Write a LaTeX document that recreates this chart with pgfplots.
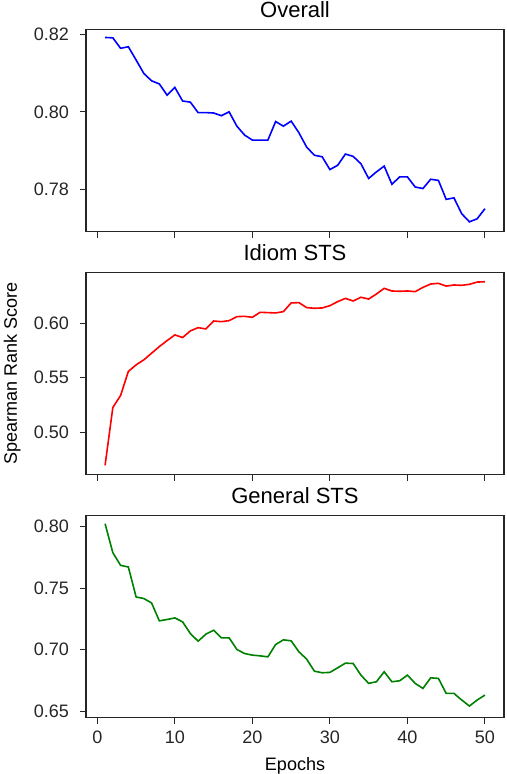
\documentclass[border=0pt]{standalone}
\usepackage{fontspec}
\setmainfont{Liberation Sans}
\usepackage{pgfplots}
\usepackage{pgfplotstable}
\pgfplotsset{compat=1.18}
\usepgfplotslibrary{groupplots}

% epoch, score
\pgfplotstableread{
e s
1 0.8192
2 0.8191
3 0.8164
4 0.8168
5 0.8134
6 0.8099
7 0.8080
8 0.8072
9 0.8043
10 0.8063
11 0.8028
12 0.8025
13 0.7998
14 0.7998
15 0.7997
16 0.7990
17 0.8000
18 0.7963
19 0.7940
20 0.7927
21 0.7927
22 0.7927
23 0.7975
24 0.7963
25 0.7976
26 0.7946
27 0.7909
28 0.7888
29 0.7884
30 0.7851
31 0.7862
32 0.7891
33 0.7885
34 0.7866
35 0.7828
36 0.7845
37 0.7860
38 0.7813
39 0.7832
40 0.7832
41 0.7806
42 0.7802
43 0.7826
44 0.7823
45 0.7774
46 0.7778
47 0.7737
48 0.7716
49 0.7724
50 0.7750
}\overall

\pgfplotstableread{
e s
1 0.4694
2 0.5226
3 0.5336
4 0.5557
5 0.5618
6 0.5664
7 0.5725
8 0.5786
9 0.5841
10 0.5893
11 0.5869
12 0.5930
13 0.5960
14 0.5948
15 0.6021
16 0.6015
17 0.6024
18 0.6061
19 0.6064
20 0.6055
21 0.6101
22 0.6098
23 0.6095
24 0.6107
25 0.6187
26 0.6190
27 0.6144
28 0.6138
29 0.6141
30 0.6162
31 0.6199
32 0.6229
33 0.6205
34 0.6239
35 0.6223
36 0.6269
37 0.6321
38 0.6297
39 0.6294
40 0.6297
41 0.6291
42 0.6330
43 0.6361
44 0.6367
45 0.6342
46 0.6352
47 0.6349
48 0.6358
49 0.6379
50 0.6382
}\idiom

\pgfplotstableread{
e s
1 0.8022
2 0.7787
3 0.7684
4 0.7671
5 0.7428
6 0.7415
7 0.7379
8 0.7234
9 0.7245
10 0.7258
11 0.7226
12 0.7131
13 0.7069
14 0.7126
15 0.7158
16 0.7096
17 0.7096
18 0.7002
19 0.6969
20 0.6956
21 0.6950
22 0.6942
23 0.7042
24 0.7080
25 0.7072
26 0.6983
27 0.6924
28 0.6826
29 0.6813
30 0.6816
31 0.6853
32 0.6891
33 0.6888
34 0.6794
35 0.6727
36 0.6740
37 0.6821
38 0.6740
39 0.6748
40 0.6794
41 0.6727
42 0.6686
43 0.6772
44 0.6767
45 0.6646
46 0.6646
47 0.6592
48 0.6543
49 0.6592
50 0.6632
}\general

\definecolor{mplgreen}{RGB}{0,128,0}
\definecolor{frame}{RGB}{38,38,38}

\begin{document}
\begin{tikzpicture}
\begin{groupplot}[
    group style={group size=1 by 3, vertical sep=20.4pt, xticklabels at=edge bottom},
    width=208.7pt, height=101pt, scale only axis,
    xmin=-1.45, xmax=52.45,
    xtick={0,10,...,50},
    tick pos=left, tick align=outside,
    major tick length=3pt,
    axis line style={frame, line width=0.65pt},
    every tick/.style={frame, line width=0.5pt},
    tick label style={font=\fontsize{9}{10.8}\selectfont, text=frame},
    /pgf/number format/assume math mode=true,
    yticklabel style={xshift=-2pt, /pgf/number format/fixed, /pgf/number format/fixed zerofill, /pgf/number format/precision=2},
    every axis title shift=0pt,
    title style={font=\fontsize{11}{13}\selectfont, anchor=base, yshift=6pt, inner sep=0pt},
    label style={font=\fontsize{9}{10.8}\selectfont, inner sep=0pt},
    every axis plot/.append style={line width=0.8pt, mark=none},
]
\nextgroupplot[title={Overall}, ymin=0.7691, ymax=0.8213, ytick={0.78,0.80,0.82}]
\addplot[blue] table[x=e, y=s] {\overall};

\nextgroupplot[title={Idiom STS}, ymin=0.4609, ymax=0.6468, ytick={0.50,0.55,0.60},
    ylabel={Spearman Rank Score},
    ylabel style={at={(axis description cs:-0.198,0.5)}, anchor=north, rotate=0}]
\addplot[red] table[x=e, y=s] {\idiom};

\nextgroupplot[title={General STS}, ymin=0.6449, ymax=0.8089, ytick={0.65,0.70,0.75,0.80},
    xlabel={Epochs},
    xlabel style={at={(axis description cs:0.5,-0.193)}, anchor=north}]
\addplot[mplgreen] table[x=e, y=s] {\general};
\end{groupplot}
\pgfresetboundingbox
\path ([xshift=-43pt, yshift=14.65pt]group c1r1.north west) rectangle ([xshift=1.35pt, yshift=-28.15pt]group c1r3.south east);
\end{tikzpicture}
\end{document}
